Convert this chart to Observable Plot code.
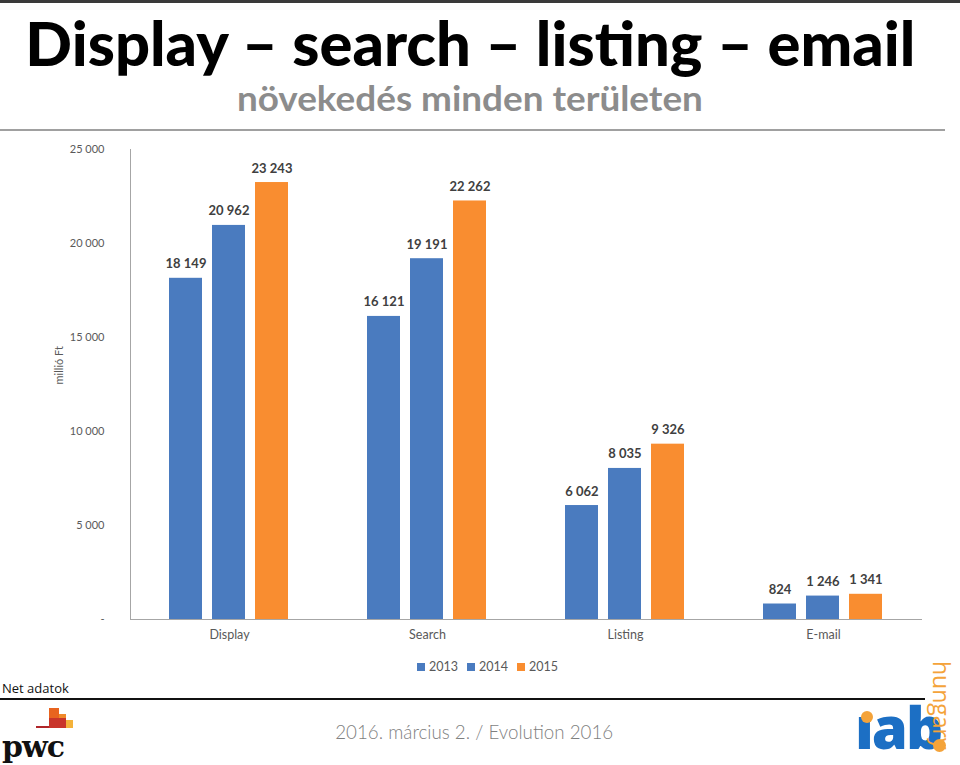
<!DOCTYPE html>
<html><head><meta charset="utf-8">
<script src="https://cdn.jsdelivr.net/npm/d3@7"></script>
<script src="https://cdn.jsdelivr.net/npm/@observablehq/plot@0.6"></script>
<style>
html,body{margin:0;padding:0;background:#fff}
body{width:960px;height:765px;position:relative;overflow:hidden;font-family:Lato,"Open Sans",sans-serif}
.abs{position:absolute}
#topline{left:0;top:0;width:960px;height:3px;background:#3a3a3a}
#title{top:8px;left:0;width:940px;text-align:center;font-weight:900;font-size:61px;line-height:70px;color:#000;white-space:nowrap}
#subtitle{top:78px;left:0;width:940px;text-align:center;font-weight:700;font-size:34px;line-height:40px;color:#8c8c8c;white-space:nowrap}
.fit{display:inline-block;transform-origin:50% 50%}
#headline{left:0;top:129px;width:945px;height:2px;background:#a0a0a0}
#chart{left:0;top:135px}
#legend{left:0;top:659px;width:960px;height:16px}
.lg{position:absolute;top:0;font-family:Lato,"Open Sans",sans-serif;font-size:12.5px;color:#595959;line-height:16px}
.sw{display:inline-block;width:8px;height:8px;margin-right:4px;vertical-align:0px}
#net{left:2px;top:679px;font-size:13px;color:#111;font-family:"Open Sans",Lato,sans-serif}
#footline{left:0;top:698px;width:925px;height:2px;background:#111}
#foot{left:0;top:719px;width:948px;text-align:center;font-size:20px;color:#7f7f7f;font-weight:300;white-space:nowrap}
#pwc{left:2px;top:730px;font-family:"DejaVu Serif","Liberation Serif",serif;font-weight:700;font-size:30px;color:#111;letter-spacing:-1px;line-height:34px}
.pb{position:absolute}
#iab{left:855px;top:694px;font-family:"Open Sans",Lato,sans-serif;font-weight:800;font-size:58px;color:#1c6fc4;line-height:66px;letter-spacing:-2px}
#hungary{left:955px;top:661px;transform-origin:0 0;transform:rotate(90deg);font-family:"Open Sans",Lato,sans-serif;font-size:23px;color:#f4a33a;line-height:26px;white-space:nowrap}
.dot{position:absolute;border-radius:50%;background:#f4a33a}
</style>
</head><body>
<div id="topline" class="abs"></div>
<div id="title" class="abs"><span class="fit" id="titleText">Display – search – listing – email</span></div>
<div id="subtitle" class="abs"><span class="fit" id="subText">növekedés minden területen</span></div>
<div id="headline" class="abs"></div>
<div id="chart" class="abs"></div>
<div id="legend" class="abs"></div>
<div id="net" class="abs">Net adatok</div>
<div id="footline" class="abs"></div>
<div id="foot" class="abs"><span class="fit" id="footText">2016. március 2. / Evolution 2016</span></div>
<div id="pwclogo" class="abs" style="left:0;top:700px;width:120px;height:65px">
  <div class="pb" style="left:36px;top:26px;width:24px;height:2px;background:#b0262a"></div>
  <div class="pb" style="left:49px;top:8px;width:10px;height:20px;background:#e8641f"></div>
  <div class="pb" style="left:59px;top:14px;width:7px;height:14px;background:#f08a2a"></div>
  <div class="pb" style="left:66px;top:20px;width:7px;height:8px;background:#f4b23a"></div>
  <div class="pb" style="left:49px;top:18px;width:17px;height:10px;background:#c9352a"></div>
</div>
<div id="pwc" class="abs">pwc</div>
<div id="iab" class="abs">ıab</div>
<div class="dot" style="left:861px;top:711px;width:12px;height:12px"></div>
<div class="dot" style="left:933px;top:739px;width:13px;height:13px"></div>
<div id="hungary" class="abs">hungary</div>
<script>
// ---- data ----
const categories = ["Display", "Search", "Listing", "E-mail"];
const years = ["2013", "2014", "2015"];
const values2013 = [18149, 16121, 6062, 824];
const values2014 = [20962, 19191, 8035, 1246];
const values2015 = [23243, 22262, 9326, 1341];
const yTicks = [0, 5000, 10000, 15000, 20000, 25000];
const yLabel = "millió Ft";
const seriesColors = ["#4a7bbf", "#4a7bbf", "#f98d30"];

const series = [values2013, values2014, values2015];
const data = categories.flatMap((c, i) => series.map((s, j) => ({category: c, year: years[j], value: s[i]})));
const fmt = d => d === 0 ? "-" : d3.format(",")(d).replace(/,/g, " ");

const chart = Plot.plot({
  width: 960,
  height: 514,
  marginLeft: 129,
  marginRight: 38,
  marginTop: 14,
  marginBottom: 30,
  style: {fontFamily: "Lato, 'Open Sans', sans-serif", color: "#595959", background: "transparent"},
  fx: {domain: categories, padding: 0},
  x: {domain: years, paddingInner: 0.227, paddingOuter: 0.864, axis: null},
  y: {domain: [0, 25000]},
  color: {domain: years, range: seriesColors},
  marks: [
    Plot.barY(data, {fx: "category", x: "year", y: "value", fill: "year"}),
    Plot.text(data, {fx: "category", x: "year", y: "value", text: d => fmt(d.value), dy: -10, lineAnchor: "bottom", fontWeight: "bold", fontSize: 13, fill: "#404040"}),
    Plot.ruleY([0], {stroke: "#a6a6a6"}),
    Plot.frame({facet: "super", anchor: "left", stroke: "#a6a6a6"}),
    Plot.axisY({ticks: yTicks, tickFormat: fmt, tickSize: 0, tickPadding: 26, fontSize: 11, label: null}),
    Plot.axisFx({anchor: "bottom", tickSize: 0, tickPadding: 11, fontSize: 12.5, label: null}),
    Plot.text([yLabel], {facet: "super", frameAnchor: "left", dx: -71, rotate: -90, fontSize: 11, fill: "#595959", text: d => d})
  ]
});
document.getElementById("chart").appendChild(chart);

// legend from the same arrays
const legend = document.getElementById("legend");
years.forEach((y, i) => {
  const item = document.createElement("div");
  item.className = "lg";
  item.style.left = (417 + i * 50) + "px";
  item.innerHTML = `<span class="sw" style="background:${seriesColors[i]}"></span>${y}`;
  legend.appendChild(item);
});

// fit header texts horizontally to reference widths
function fit(id, w) {
  const el = document.getElementById(id);
  const r = el.getBoundingClientRect();
  el.style.transform = `scaleX(${w / r.width})`;
}
fit("titleText", 890);
fit("subText", 466);
fit("footText", 278);
</script>
</body></html>
